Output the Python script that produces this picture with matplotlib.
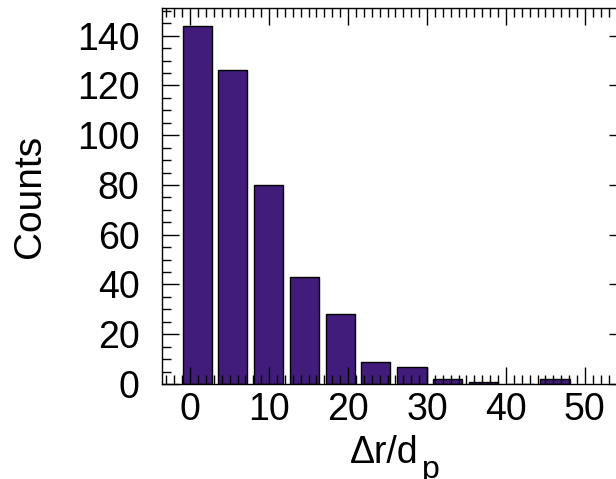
import matplotlib
matplotlib.use("Agg")
import matplotlib.pyplot as plt
from matplotlib.ticker import MultipleLocator

plt.rcParams['font.family'] = ['Liberation Sans', 'DejaVu Sans']

# histogram of separations (bin centres)
bin_centers = [0.9, 5.4, 9.9, 14.5, 19.0, 23.5, 28.1, 32.6, 37.2, 41.7, 46.2]
counts = [144, 126, 80, 43, 28, 9, 7, 2, 1, 0, 2]
bar_width = 3.7

BAR_COLOR = '#421c7a'

fig = plt.figure(figsize=(6.16, 4.79), dpi=100)
ax = fig.add_axes([0.2625, 0.1983, 0.7537, 0.7844])

ax.bar(bin_centers, counts, width=bar_width, color=BAR_COLOR,
       edgecolor='black', linewidth=1.0)

ax.set_xlim(-3.6, 55.2)
ax.set_ylim(0, 151)
ax.xaxis.set_major_locator(MultipleLocator(10))
ax.xaxis.set_minor_locator(MultipleLocator(1))
ax.yaxis.set_major_locator(MultipleLocator(20))
ax.yaxis.set_minor_locator(MultipleLocator(5))

ax.tick_params(which='both', direction='in', top=True, right=True, width=1.0)
ax.tick_params(which='major', length=12)
ax.tick_params(which='minor', length=6.5)
ax.tick_params(axis='x', labelsize=27, pad=6)
ax.tick_params(axis='y', labelsize=27, pad=16)
for s in ax.spines.values():
    s.set_linewidth(1.0)

# x label: "Δr/d" with a low subscript p (IDL style)
xl = ax.set_xlabel('\u0394r/d', fontsize=27)
ax.xaxis.set_label_coords(0.479, -0.136)
ax.annotate('p', xy=(1.0, 0.0), xycoords=xl, xytext=(4, -7),
            textcoords='offset pixels', fontsize=23, ha='left', va='baseline')

ax.set_ylabel('Counts', fontsize=28)
ax.yaxis.set_label_coords(-0.245, 0.5)

fig.savefig('out.png', dpi=100)
